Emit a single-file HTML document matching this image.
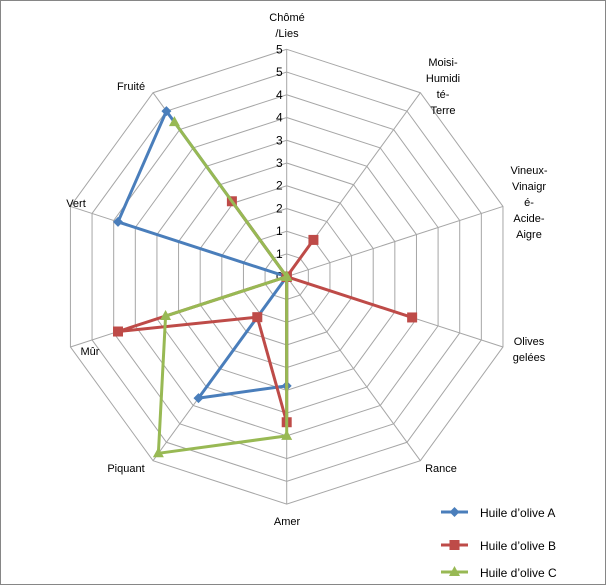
<!DOCTYPE html>
<html><head><meta charset="utf-8"><style>
body{margin:0;background:#fff}
svg{display:block;font-family:"Liberation Sans",sans-serif}
</style></head><body>
<svg id="chart" width="606" height="585">
<rect x="0.5" y="0.5" width="605" height="584" fill="#fff" stroke="#868686"/>
<g id="grid"></g>
<g id="labels"></g>
<g id="series"></g>
<g id="legend"></g>
</svg>
<script>
const categories=["Chômé/Lies","Moisi-Humidité-Terre","Vineux-Vinaigré-Acide-Aigre","Olives gelées","Rance","Amer","Piquant","Mûr","Vert","Fruité"];
const catLines=[["Chômé","/Lies"],["Moisi-","Humidi","té-","Terre"],["Vineux-","Vinaigr","é-","Acide-","Aigre"],["Olives","gelées"],["Rance"],["Amer"],["Piquant"],["Mûr"],["Vert"],["Fruité"]];
const seriesNames=["Huile d’olive A","Huile d’olive B","Huile d’olive C"];
const valuesA=[0,0,0,0,0,2.4,3.3,0,3.9,4.5];
const valuesB=[0,1.0,0,2.9,0,3.2,1.1,3.9,0,2.05];
const valuesC=[0,0,0,0,0,3.5,4.8,2.8,0,4.2];
const tickValues=[0,0.5,1,1.5,2,2.5,3,3.5,4,4.5,5];
const tickLabels=["0","1","1","2","2","3","3","4","4","5","5"];
const NS="http://www.w3.org/2000/svg";
const cx=286.7,cy=276.7,R=227.4,maxV=5;
function ang(i){return (i*36-90)*Math.PI/180;}
function pt(i,v){const r=v/maxV*R;return [cx+r*Math.cos(ang(i)),cy+r*Math.sin(ang(i))];}
function mk(tag,attrs,parent){const e=document.createElementNS(NS,tag);for(const k in attrs)e.setAttribute(k,attrs[k]);parent.appendChild(e);return e;}
const grid=document.getElementById('grid');
tickValues.forEach((t,ti)=>{if(t===0)return;
 const p=categories.map((c,i)=>pt(i,t).join(',')).join(' ');
 const g=mk('polygon',{points:p,fill:'none',stroke:'#a6a6a6','stroke-width':1},grid);
 
 
});
categories.forEach((c,i)=>{const [x,y]=pt(i,maxV);
 const l=mk('line',{x1:cx,y1:cy,x2:x,y2:y,stroke:'#a6a6a6','stroke-width':1},grid);
 
 
});
tickValues.forEach((t,ti)=>{const [x,y]=pt(0,t);
 const tx=mk('text',{x:x-4,y:y+4,'font-size':12,'text-anchor':'end',fill:'#000'},grid);
 tx.textContent=tickLabels[ti];
 
 
});
const labelPos=[[287,17],[443,62],[529,170],[529,341],[441,468],[287,521],[126,468],[90,351],[76,203],[131,86]];
const labels=document.getElementById('labels');
catLines.forEach((ls,i)=>{const [x,y]=labelPos[i];
 const t=mk('text',{x:x,y:y+4,'font-size':11,'text-anchor':'middle',fill:'#000'},labels);
 
 
 ls.forEach((s,j)=>{const sp=mk('tspan',{x:x,dy:j?16:0},t);sp.textContent=s;});
});
const colors=["#4a7ebb","#be4b48","#98b954"];
const allVals=[valuesA,valuesB,valuesC];
const series=document.getElementById('series');
function marker(k,x,y,parent){let m;
 if(k===0)m=mk('polygon',{points:`${x},${y-5} ${x+5},${y} ${x},${y+5} ${x-5},${y}`,fill:colors[k]},parent);
 else if(k===1)m=mk('rect',{x:x-5,y:y-5,width:10,height:10,fill:colors[k]},parent);
 else m=mk('polygon',{points:`${x},${y-6} ${x+5.5},${y+4} ${x-5.5},${y+4}`,fill:colors[k]},parent);
 return m;}
allVals.forEach((vals,k)=>{
 const g=mk('g',{},series);
 
 
 const pts=vals.map((v,i)=>pt(i,v));
 const pl=mk('polygon',{points:pts.map(p=>p.join(',')).join(' '),fill:'none',stroke:colors[k],'stroke-width':3,'stroke-linejoin':'round'},g);
 
 
 pts.forEach(p=>{const m=marker(k,p[0],p[1],g);
  
  });
});
const legend=document.getElementById('legend');
const ly=[512,545,572];
seriesNames.forEach((n,k)=>{
 const g=mk('g',{},legend);
 
 
 mk('line',{x1:441,y1:ly[k],x2:468,y2:ly[k],stroke:colors[k],'stroke-width':3},g);
 marker(k,454.5,ly[k],g);
 const t=mk('text',{x:480,y:ly[k]+5,'font-size':12,fill:'#000'},g);
 t.textContent=n;
});
</script>
</body></html>
